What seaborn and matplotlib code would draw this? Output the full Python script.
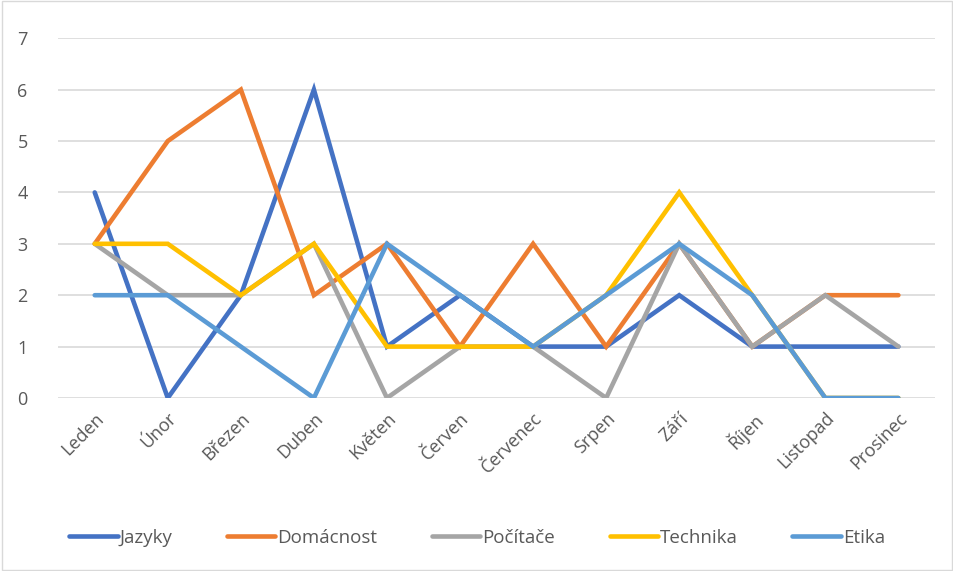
import pandas as pd
import matplotlib.pyplot as plt
import seaborn as sns
from matplotlib.patches import Rectangle

# ---------- DATA ----------
MONTHS = ["Leden", "Únor", "Březen", "Duben", "Květen", "Červen",
          "Červenec", "Srpen", "Září", "Říjen", "Listopad", "Prosinec"]
JAZYKY = [4, 0, 2, 6, 1, 2, 1, 1, 2, 1, 1, 1]
DOMACNOST = [3, 5, 6, 2, 3, 1, 3, 1, 3, 1, 2, 2]
POCITACE = [3, 2, 2, 3, 0, 1, 1, 0, 3, 1, 2, 1]
TECHNIKA = [3, 3, 2, 3, 1, 1, 1, 2, 4, 2, 0, 0]
ETIKA = [2, 2, 1, 0, 3, 2, 1, 2, 3, 2, 0, 0]

SERIES = {
    "Jazyky": JAZYKY,
    "Domácnost": DOMACNOST,
    "Počítače": POCITACE,
    "Technika": TECHNIKA,
    "Etika": ETIKA,
}
COLORS = ["#4472C4", "#ED7D31", "#A5A5A5", "#FFC000", "#5B9BD5"]

rows = []
for name, vals in SERIES.items():
    for i, v in enumerate(vals):
        rows.append({"pos": i, "value": v, "series": name})
df = pd.DataFrame(rows)

# ---------- PLOT ----------
sns.set_style("white")
plt.rcParams["font.family"] = ["Open Sans", "DejaVu Sans"]

fig = plt.figure(figsize=(9.54, 5.71), dpi=100)
ax = fig.add_axes([0.061, 0.303, 0.919, 0.630])

sns.lineplot(data=df, x="pos", y="value", hue="series",
             palette=COLORS, linewidth=3.3, ax=ax, legend=True,
             solid_joinstyle="miter", solid_capstyle="round")

ax.set_xlim(-0.5, len(MONTHS) - 0.5)
ax.set_ylim(0, 7)
ax.set_yticks(range(0, 8))
ax.set_xticks(range(len(MONTHS)))
ax.set_xticklabels(MONTHS, rotation=45, ha="right", rotation_mode="anchor")
ax.tick_params(axis="both", length=0, labelsize=13, labelcolor="#595959")
ax.tick_params(axis="x", pad=8)
ax.tick_params(axis="y", pad=22)
ax.set_xlabel("")
ax.set_ylabel("")
ax.yaxis.grid(True, color="#D9D9D9", linewidth=1.2)
ax.set_axisbelow(True)
for s in ax.spines.values():
    s.set_visible(False)

handles, labels = ax.get_legend_handles_labels()
ax.legend_.remove()
for h in handles:
    h.set_linewidth(3.3)
fig.legend(handles, labels, loc="center", bbox_to_anchor=(0.5, 0.058),
           ncol=5, frameon=False, fontsize=13.5, handlelength=2.6,
           columnspacing=2.9, handletextpad=0.1, labelcolor="#595959")

fig.patches.append(Rectangle((0.002, 0.002), 0.996, 0.996,
                             transform=fig.transFigure, fill=False,
                             edgecolor="#D9D9D9", linewidth=1))

fig.savefig("out.png", dpi=100)
